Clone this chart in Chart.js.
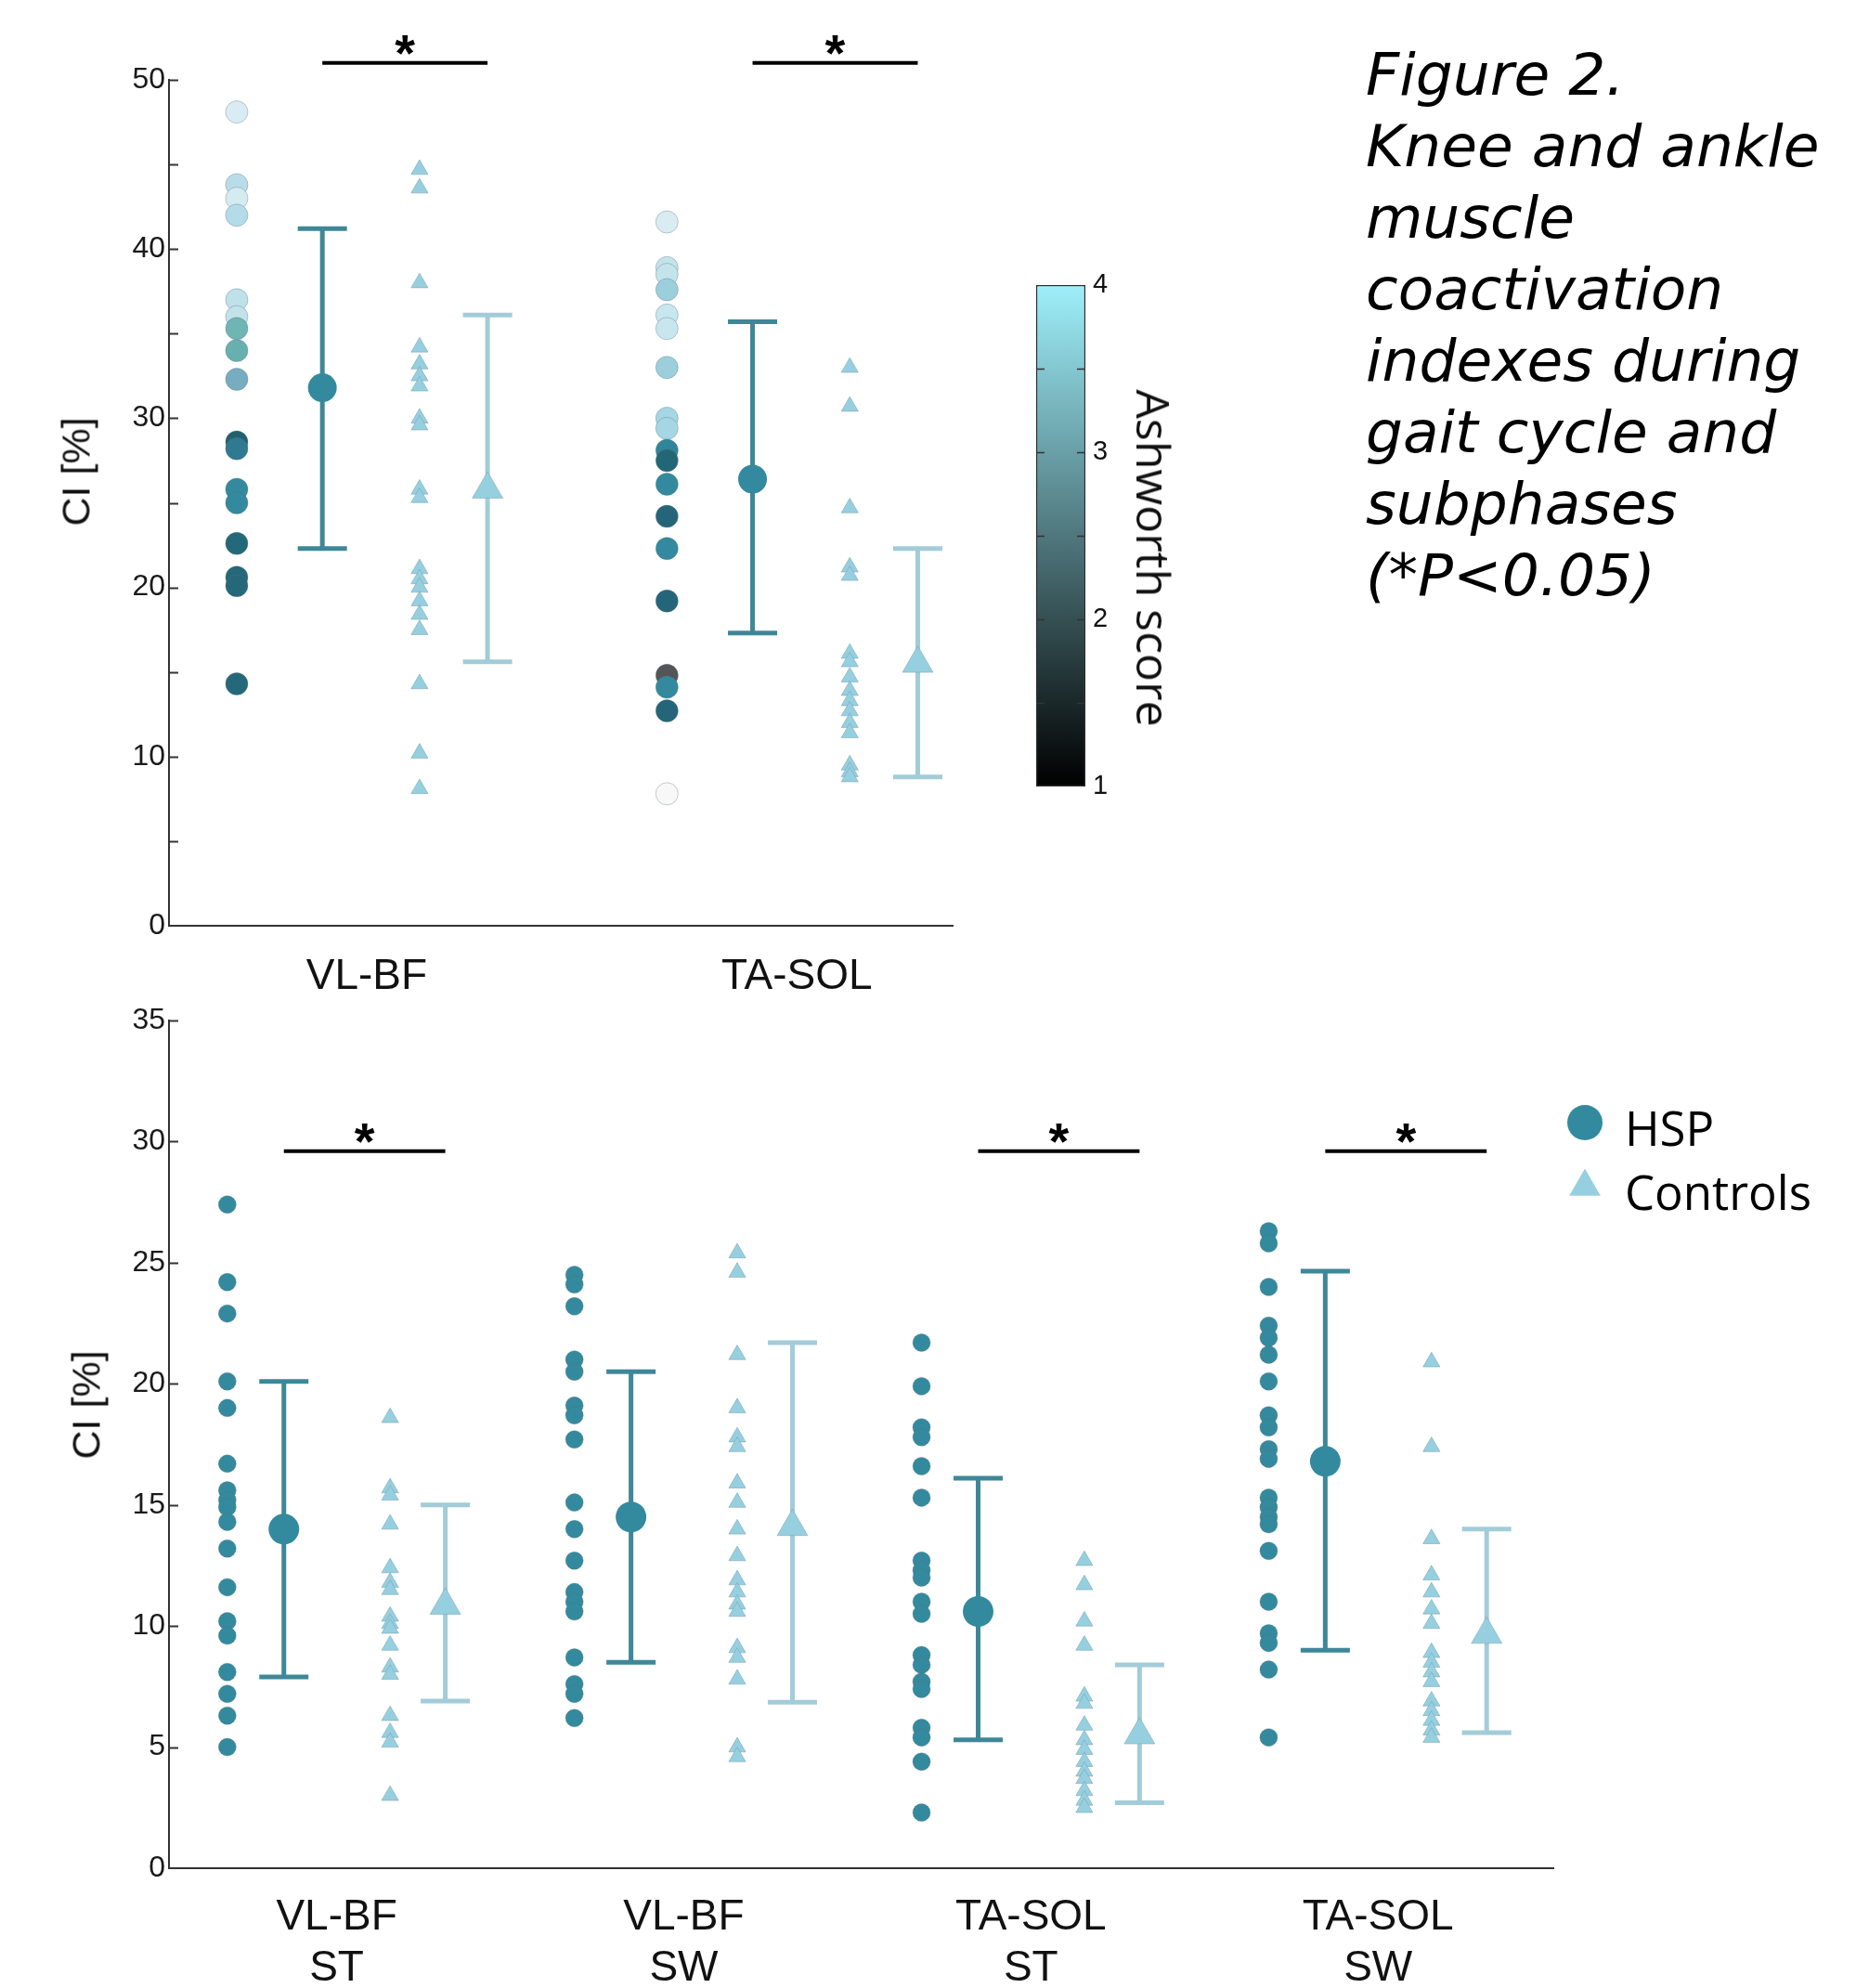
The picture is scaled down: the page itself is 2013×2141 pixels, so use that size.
<!DOCTYPE html>
<html>
<head>
<meta charset="utf-8">
<script src="https://cdn.jsdelivr.net/npm/chart.js@4.4.0/dist/chart.umd.min.js"></script>
<style>
  body { margin: 0; background: #fff; }
  #page { position: relative; width: 2013px; height: 2141px; overflow: hidden; background: #fff; }
  canvas { position: absolute; }
  .ytitle { position: absolute; font: 43px "Liberation Sans"; color: #111; white-space: nowrap;
    transform: translate(-50%, -50%) rotate(-90deg); }
  #cbTitle { position: absolute; left: 1243px; top: 601px; font: 50px "Open Sans"; color: #111; white-space: nowrap;
    transform: translate(-50%, -50%) rotate(90deg); }
  #caption { position: absolute; left: 1471px; top: 42px; font: italic 63px "DejaVu Sans"; line-height: 77px; color: #000; white-space: nowrap; }
</style>
</head>
<body>
<div id="page">
  <canvas id="topChart" width="1100" height="1090" style="left:0;top:0"></canvas>
  <canvas id="colorBar" width="110" height="600" style="left:1100px;top:280px"></canvas>
  <canvas id="bottomChart" width="2013" height="1081" style="left:0;top:1060px"></canvas>
  <div class="ytitle" style="left:82px;top:508px">CI [%]</div>
  <div class="ytitle" style="left:93px;top:1513px">CI [%]</div>
  <div id="cbTitle">Ashworth score</div>
  <div id="caption">Figure 2.<br>Knee and ankle<br>muscle<br>coactivation<br>indexes during<br>gait cycle and<br>subphases<br>(*P&lt;0.05)</div>
</div>
<script>
// ---- top panel: whole gait cycle ----
const topCats = ['VL-BF', 'TA-SOL'];

const vlbfHsp = [48.1, 43.8, 43.0, 42.0, 37.0, 36.0, 35.3, 34.0, 32.3, 28.6, 28.2, 25.8, 25.0, 22.6, 20.6, 20.1, 14.3];
const vlbfHspFill = ['#d9ecf3', '#b8dde8', '#d5ebf2', '#b3dce8', '#bfe1ea', '#c2e2ea', '#6fb5b3', '#68b0ae', '#76adc0',
  '#23606f', '#2f7a90', '#33899e', '#33899e', '#24697a', '#25687a', '#25687a', '#25687a'];
const vlbfCtrl = [44.7, 43.6, 38.0, 34.2, 33.2, 32.5, 31.9, 30.0, 29.6, 25.8, 25.3, 21.1, 20.5, 20.0, 19.2, 18.4, 17.5, 14.3, 10.2, 8.1];

const tasolHsp = [41.6, 38.9, 38.5, 37.6, 36.1, 35.3, 33.0, 30.0, 29.4, 28.1, 27.5, 26.1, 24.2, 22.3, 19.2, 14.8, 14.1, 12.7, 7.8];
const tasolHspFill = ['#d8ecf2', '#c4e4ec', '#c4e4ec', '#9ccfdc', '#c8e6ee', '#c8e6ee', '#9ccfdc', '#a5d6e4', '#a5d6e4',
  '#2f8599', '#236777', '#338a9e', '#24657a', '#338a9e', '#24657a', '#555555', '#338a9e', '#24657a', '#f8f8f8'];
const tasolCtrl = [33.0, 30.7, 24.7, 21.2, 20.7, 16.1, 15.6, 14.7, 13.9, 13.3, 12.7, 12.0, 11.4, 9.5, 9.1, 8.8];

const topHspMean = [31.8, 26.4];
const topHspLow = [22.3, 17.3];
const topHspHigh = [41.2, 35.7];
const topCtrlMean = [25.8, 15.5];
const topCtrlLow = [15.6, 8.8];
const topCtrlHigh = [36.1, 22.3];
const topSig = [true, true];
const topSigLevel = 51;

// ---- bottom panel: stance / swing subphases ----
const bottomCats = [['VL-BF', 'ST'], ['VL-BF', 'SW'], ['TA-SOL', 'ST'], ['TA-SOL', 'SW']];

const vlbfStHsp = [27.4, 24.2, 22.9, 20.1, 19.0, 16.7, 15.6, 15.2, 14.9, 14.3, 13.2, 11.6, 10.2, 9.6, 8.1, 7.2, 6.3, 5.0];
const vlbfStCtrl = [18.6, 15.7, 15.4, 14.2, 12.4, 11.8, 11.5, 10.4, 10.1, 9.9, 9.2, 8.3, 8.0, 6.3, 5.6, 5.2, 3.0];
const vlbfSwHsp = [24.5, 24.1, 23.2, 21.0, 20.5, 19.1, 18.7, 17.7, 15.1, 14.0, 12.7, 11.4, 11.0, 10.6, 8.7, 7.6, 7.2, 6.2];
const vlbfSwCtrl = [25.4, 24.6, 21.2, 19.0, 17.8, 17.4, 15.9, 15.1, 14.0, 12.9, 11.9, 11.4, 10.9, 10.6, 9.1, 8.7, 7.8, 5.0, 4.6];
const tasolStHsp = [21.7, 19.9, 18.2, 17.8, 16.6, 15.3, 12.7, 12.3, 12.0, 11.0, 10.5, 8.8, 8.4, 7.7, 7.4, 5.8, 5.4, 4.4, 2.3];
const tasolStCtrl = [12.7, 11.7, 10.2, 9.2, 7.1, 6.8, 5.9, 5.3, 4.9, 4.4, 4.0, 3.7, 3.2, 2.8, 2.5];
const tasolSwHsp = [26.3, 25.8, 24.0, 22.4, 21.9, 21.2, 20.1, 18.7, 18.2, 17.3, 16.9, 15.3, 14.9, 14.5, 14.2, 13.1, 11.0, 9.7, 9.3, 8.2, 5.4];
const tasolSwCtrl = [20.9, 17.4, 13.6, 12.1, 11.4, 10.7, 10.1, 8.9, 8.5, 8.1, 7.7, 6.9, 6.5, 6.1, 5.7, 5.4];

const bottomHspMean = [14.0, 14.5, 10.6, 16.8];
const bottomHspLow = [7.9, 8.5, 5.3, 9.0];
const bottomHspHigh = [20.1, 20.5, 16.1, 24.65];
const bottomCtrlMean = [10.85, 14.1, 5.5, 9.65];
const bottomCtrlLow = [6.9, 6.85, 2.7, 5.6];
const bottomCtrlHigh = [15.0, 21.7, 8.4, 14.0];
const bottomSig = [true, false, true, true];
const bottomSigLevel = 29.6;

// colour bar (Ashworth score)
const ashworthTicks = [1, 2, 3, 4];

// styles
const HSP = '#338a9e';
const HSP_BAR = '#3e8798';
const CTRL = '#96d0e0';
const CTRL_BAR = '#a2ccd8';
const FONT = 'Liberation Sans';

Chart.defaults.font.family = FONT;
Chart.defaults.color = '#1a1a1a';

function buildSets(groups, off, sz) {
  const sets = [];
  groups.forEach((g, i) => {
    sets.push({
      data: g.hsp.map(v => ({ x: i + off.hsp, y: v })),
      pointStyle: 'circle', pointRadius: sz.hsp,
      pointBackgroundColor: g.fill || HSP,
      pointBorderColor: 'rgba(90,110,120,0.35)', pointBorderWidth: 1, order: 3
    });
    sets.push({
      data: g.ctrl.map(v => ({ x: i + off.ctrl, y: v })),
      pointStyle: 'triangle', pointRadius: sz.ctrl,
      pointBackgroundColor: CTRL, pointBorderColor: 'rgba(120,160,175,0.55)', pointBorderWidth: 1, order: 3
    });
    // error bars: vertical line with horizontal caps
    [[off.hspMean, g.hl, g.hh, HSP_BAR], [off.ctrlMean, g.cl, g.ch, CTRL_BAR]].forEach(([o, lo, hi, col]) => {
      sets.push({
        data: [{ x: i + o, y: lo }, { x: i + o, y: hi }],
        showLine: true, borderColor: col, borderWidth: 5,
        pointStyle: 'line', pointRadius: 26.5, pointBorderWidth: 5, pointBorderColor: col, order: 2
      });
    });
    sets.push({
      data: [{ x: i + off.hspMean, y: g.hm }],
      pointStyle: 'circle', pointRadius: sz.hspMean, pointBackgroundColor: HSP, pointBorderColor: HSP, pointBorderWidth: 0, order: 1
    });
    sets.push({
      data: [{ x: i + off.ctrlMean, y: g.cm }],
      pointStyle: 'triangle', pointRadius: sz.ctrlMean, pointBackgroundColor: CTRL,
      pointBorderColor: 'rgba(120,160,175,0.5)', pointBorderWidth: 1, order: 1
    });
    if (g.sig) {
      sets.push({
        data: [{ x: i + off.hspMean, y: g.sigY }, { x: i + off.ctrlMean, y: g.sigY }],
        showLine: true, borderColor: '#000', borderWidth: 4, pointRadius: 0, clip: false,
        sigStar: true, order: 0
      });
    }
  });
  return sets;
}

const innerTicks = {
  id: 'innerTicks',
  afterDraw(chart, args, opts) {
    const y = chart.scales.y, a = chart.chartArea, ctx = chart.ctx;
    ctx.save();
    ctx.strokeStyle = opts.color; ctx.lineWidth = opts.width;
    for (let v = opts.from; v <= opts.to + 1e-9; v += opts.step) {
      const py = Math.round(y.getPixelForValue(v)) + 0.5;
      ctx.beginPath(); ctx.moveTo(a.left, py); ctx.lineTo(a.left + opts.len, py); ctx.stroke();
      if (opts.both) {
        ctx.beginPath(); ctx.moveTo(a.right, py); ctx.lineTo(a.right - opts.len, py); ctx.stroke();
      }
    }
    ctx.restore();
  }
};

const sigStars = {
  id: 'sigStars',
  afterDatasetsDraw(chart, args, opts) {
    const ctx = chart.ctx;
    ctx.save();
    ctx.fillStyle = '#000'; ctx.font = opts.font;
    ctx.textAlign = 'center'; ctx.textBaseline = 'alphabetic';
    chart.data.datasets.forEach((ds, i) => {
      if (!ds.sigStar) return;
      const pts = chart.getDatasetMeta(i).data;
      ctx.fillText('*', (pts[0].x + pts[1].x) / 2, pts[0].y + opts.dy);
    });
    ctx.restore();
  }
};

const groupLegend = {
  id: 'groupLegend',
  afterDraw(chart, args, opts) {
    if (!opts.items) return;
    const ctx = chart.ctx, a = chart.chartArea;
    const x = a.right + opts.dx;
    ctx.save();
    opts.items.forEach((it, k) => {
      const y = a.top + opts.dy + k * opts.gap;
      ctx.fillStyle = it.color; ctx.strokeStyle = it.color;
      ctx.beginPath();
      Chart.helpers.drawPoint(ctx, { pointStyle: it.style, radius: it.radius, rotation: 0, borderWidth: 0 }, x, y);
      ctx.fillStyle = '#000'; ctx.font = opts.font; ctx.textBaseline = 'alphabetic'; ctx.textAlign = 'left';
      ctx.fillText(it.label, x + opts.textGap, y + opts.baseline);
    });
    ctx.restore();
  }
};

function scatterOptions(o) {
  return {
    responsive: false, animation: false, events: [],
    layout: { padding: o.padding },
    plugins: {
      legend: { display: false }, tooltip: { enabled: false },
      innerTicks: { from: o.tickStep, to: o.yMax, step: o.tickStep, len: 10, color: '#333', width: 2 },
      sigStars: { font: 'bold 56px ' + FONT, dy: 8 },
      groupLegend: o.legend || {}
    },
    scales: {
      x: {
        type: 'linear', min: o.xMin, max: o.xMax,
        grid: { display: false, drawTicks: false },
        border: { display: true, color: '#333', width: 2 },
        afterBuildTicks: s => { s.ticks = o.cats.map((c, i) => ({ value: i })); },
        afterFit: s => { s.height = o.xHeight; },
        ticks: {
          autoSkip: false, maxRotation: 0, padding: o.labelPad,
          font: { size: 46, lineHeight: 1.2 }, color: '#111',
          callback: v => o.cats[v]
        }
      },
      y: {
        min: 0, max: o.yMax,
        grid: { display: false, drawTicks: false },
        border: { display: true, color: '#333', width: 2 },
        afterFit: s => { s.width = 182; },
        ticks: {
          stepSize: o.tickStep, padding: 4, font: { size: 32 }, color: '#1a1a1a',
          callback: v => (v % o.labelStep === 0 ? v : '')
        }
      }
    }
  };
}

// top chart
const topGroups = [
  { hsp: vlbfHsp, fill: vlbfHspFill, ctrl: vlbfCtrl },
  { hsp: tasolHsp, fill: tasolHspFill, ctrl: tasolCtrl }
].map((g, i) => Object.assign(g, {
  hm: topHspMean[i], hl: topHspLow[i], hh: topHspHigh[i],
  cm: topCtrlMean[i], cl: topCtrlLow[i], ch: topCtrlHigh[i],
  sig: topSig[i], sigY: topSigLevel
}));

new Chart(document.getElementById('topChart'), {
  type: 'scatter',
  data: { datasets: buildSets(topGroups,
    { hsp: -0.302, hspMean: -0.103, ctrl: 0.123, ctrlMean: 0.281 },
    { hsp: 12, hspMean: 15.5, ctrl: 10.5, ctrlMean: 19 }) },
  options: scatterOptions({
    cats: topCats, xMin: -0.4595, xMax: 1.362, yMax: 50, tickStep: 5, labelStep: 10,
    padding: { top: 86, right: 74, bottom: 0, left: 0 }, xHeight: 93, labelPad: 28
  }),
  plugins: [innerTicks, sigStars, groupLegend]
});

// bottom chart
const bottomGroups = [
  { hsp: vlbfStHsp, ctrl: vlbfStCtrl },
  { hsp: vlbfSwHsp, ctrl: vlbfSwCtrl },
  { hsp: tasolStHsp, ctrl: tasolStCtrl },
  { hsp: tasolSwHsp, ctrl: tasolSwCtrl }
].map((g, i) => Object.assign(g, {
  hm: bottomHspMean[i], hl: bottomHspLow[i], hh: bottomHspHigh[i],
  cm: bottomCtrlMean[i], cl: bottomCtrlLow[i], ch: bottomCtrlHigh[i],
  sig: bottomSig[i], sigY: bottomSigLevel
}));

new Chart(document.getElementById('bottomChart'), {
  type: 'scatter',
  data: { datasets: buildSets(bottomGroups,
    { hsp: -0.315, hspMean: -0.152, ctrl: 0.154, ctrlMean: 0.313 },
    { hsp: 9.5, hspMean: 16.5, ctrl: 10.5, ctrlMean: 19 }) },
  options: scatterOptions({
    cats: bottomCats, xMin: -0.483, xMax: 3.505, yMax: 35, tickStep: 5, labelStep: 5,
    padding: { top: 39, right: 340, bottom: 0, left: 0 }, xHeight: 129, labelPad: 26,
    legend: {
      dx: 34, dy: 110, gap: 69, textGap: 43, baseline: 25, font: '51px "Open Sans"',
      items: [
        { label: 'HSP', style: 'circle', radius: 19, color: HSP },
        { label: 'Controls', style: 'triangle', radius: 19.5, color: CTRL }
      ]
    }
  }),
  plugins: [innerTicks, sigStars, groupLegend]
});

// colour bar
new Chart(document.getElementById('colorBar'), {
  type: 'bar',
  data: {
    labels: [''],
    datasets: [{
      data: [[ashworthTicks[0], ashworthTicks[ashworthTicks.length - 1]]],
      barPercentage: 1, categoryPercentage: 1,
      borderColor: '#2a2a2a', borderWidth: 1.5, borderSkipped: false,
      backgroundColor: ctx => {
        const a = ctx.chart.chartArea;
        if (!a) return '#000';
        const g = ctx.chart.ctx.createLinearGradient(0, a.bottom, 0, a.top);
        g.addColorStop(0, '#000000');
        g.addColorStop(1, '#9eeffa');
        return g;
      }
    }]
  },
  options: {
    responsive: false, animation: false, events: [],
    layout: { padding: { top: 27, right: 0, bottom: 33, left: 16 } },
    plugins: {
      legend: { display: false }, tooltip: { enabled: false },
      innerTicks: { from: 1.5, to: 3.5, step: 0.5, len: 9, color: '#333', width: 1.5, both: true }
    },
    scales: {
      x: { display: false },
      y: {
        position: 'right', min: 1, max: 4,
        grid: { display: false, drawTicks: false }, border: { display: false },
        afterFit: s => { s.width = 41; },
        ticks: {
          stepSize: 0.5, padding: 8, font: { size: 29 }, color: '#111',
          callback: v => (ashworthTicks.includes(v) ? v : '')
        }
      }
    }
  },
  plugins: [innerTicks]
});
</script>
</body>
</html>
